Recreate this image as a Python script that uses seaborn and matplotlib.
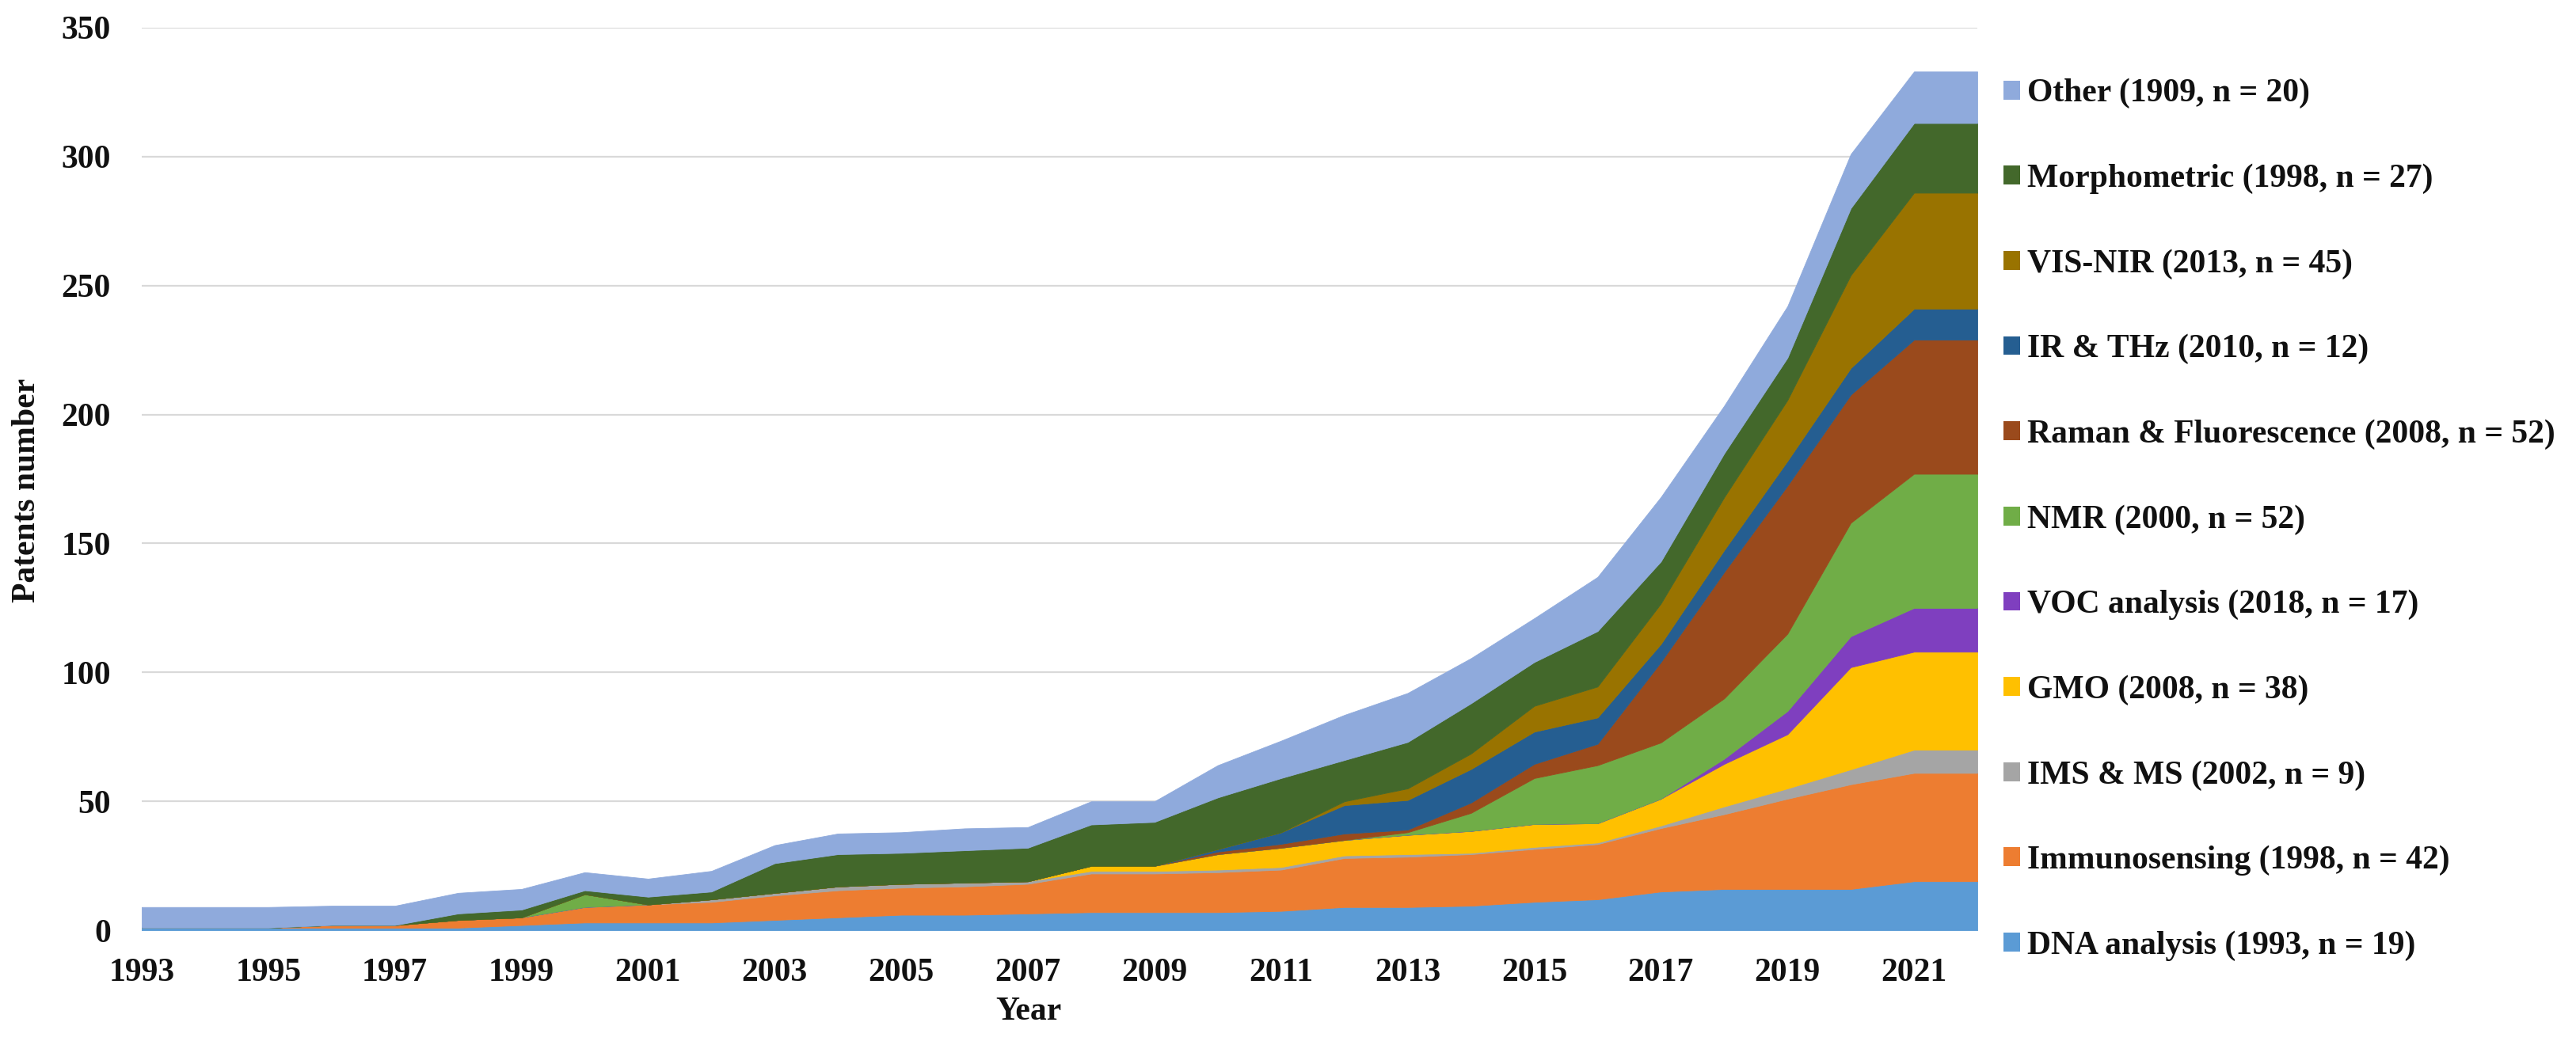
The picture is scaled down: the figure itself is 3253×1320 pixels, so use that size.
import matplotlib
matplotlib.use("Agg")
import matplotlib.pyplot as plt
import seaborn as sns
from matplotlib.patches import Patch

# ---------------- data ----------------
years = list(range(1993, 2023))

dna_analysis = [1, 1, 1, 1, 1, 1, 2, 3, 3, 3, 4, 5, 6, 6, 6.5, 7, 7, 7, 7.5, 9,
                9, 9.5, 11, 12, 15, 16, 16, 16, 19, 19]
immunosensing = [0, 0, 0, 1, 1, 3, 3, 6, 7, 8, 9.5, 10.5, 10.5, 11, 11.5, 15, 15, 15.5, 16, 19,
                 19.5, 20, 20.5, 21.4, 24.6, 29, 35, 40.6, 42, 42]
ims_ms = [0, 0, 0, 0, 0, 0, 0, 0, 0, 1, 1, 1.5, 1.5, 1.5, 1, 1, 1, 1, 1, 1,
          1, 0.5, 0.8, 0.6, 1, 3, 4, 5.8, 9, 9]
gmo = [0, 0, 0, 0, 0, 0, 0, 0, 0, 0, 0, 0, 0, 0, 0, 2, 2, 6, 7.5, 6,
       7.5, 8.5, 8.9, 7.5, 10.4, 16.5, 21, 39.6, 38, 38]
voc_analysis = [0, 0, 0, 0, 0, 0, 0, 0, 0, 0, 0, 0, 0, 0, 0, 0, 0, 0, 0, 0,
                0, 0, 0, 0, 0, 2, 9, 12, 17, 17]
nmr = [0, 0, 0, 0, 0, 0, 0, 5, 0, 0, 0, 0, 0, 0, 0, 0, 0, 0, 0, 0,
       1, 7, 17.8, 22.5, 21.8, 23.4, 30, 44, 52, 52]
raman_fluo = [0, 0, 0, 0, 0, 0, 0, 0, 0, 0, 0, 0, 0, 0, 0, 0, 0, 1, 1.5, 2.5,
              1, 4, 5.5, 8.3, 31.2, 49, 57.4, 49.7, 52, 52]
ir_thz = [0, 0, 0, 0, 0, 0, 0, 0, 0, 0, 0, 0, 0, 0, 0, 0, 0, 1, 4.5, 11,
          11.5, 13, 12.5, 10.2, 7, 8.5, 9.6, 10.3, 12, 12]
vis_nir = [0, 0, 0, 0, 0, 0, 0, 0, 0, 0, 0, 0, 0, 0, 0, 0, 0, 0, 0, 1.5,
           4.5, 6, 10, 12, 15.7, 20.5, 23.6, 36, 45, 45]
morphometric = [0, 0, 0, 0, 0, 2.5, 3, 1.5, 3, 3, 11.5, 12.5, 12, 12.5, 13, 16, 17, 20, 21, 16,
                18, 19.5, 17, 21.5, 16.3, 17, 16.4, 26, 27, 27]
other = [8, 8, 8, 7.5, 7.5, 8, 8, 7, 7, 8, 7, 8, 8, 8.5, 8, 9, 8, 12.5, 14.5, 17.5,
         19, 17.5, 17, 21, 25, 18.5, 20, 21, 20, 20]

series_labels = [
    "DNA analysis (1993, n = 19)",
    "Immunosensing (1998, n = 42)",
    "IMS & MS (2002, n = 9)",
    "GMO (2008, n = 38)",
    "VOC analysis (2018, n = 17)",
    "NMR (2000, n = 52)",
    "Raman & Fluorescence (2008, n = 52)",
    "IR & THz (2010, n = 12)",
    "VIS-NIR (2013, n = 45)",
    "Morphometric (1998, n = 27)",
    "Other (1909, n = 20)",
]
series_colors = ["#5B9BD5", "#ED7D31", "#A5A5A5", "#FFC000", "#7F3FBF", "#70AD47",
                 "#9A4A1C", "#255E91", "#997300", "#43682B", "#8FAADC"]
x_ticks = list(range(1993, 2022, 2))
y_ticks = list(range(0, 351, 50))

# ---------------- style ----------------
sns.set_theme(style="whitegrid")
plt.rcParams['font.family'] = ['Liberation Serif', 'DejaVu Serif']
plt.rcParams['font.weight'] = 'bold'

fig = plt.figure(figsize=(32.53, 13.2), dpi=100)
ax = fig.add_axes([0.055, 0.1098, 0.7126, 0.8637])

polys = ax.stackplot(years, dna_analysis, immunosensing, ims_ms, gmo, voc_analysis, nmr,
                     raman_fluo, ir_thz, vis_nir, morphometric, other,
                     colors=series_colors, labels=series_labels, linewidth=0.6)
for p, c in zip(polys, series_colors):
    p.set_edgecolor(c)

ax.set_xlim(1993, 2022)
ax.set_ylim(0, 350)
ax.set_xticks(x_ticks)
ax.set_yticks(y_ticks)
ax.grid(axis='y', color='#D9D9D9', linewidth=1.6)
ax.grid(axis='x', visible=False)
ax.set_axisbelow(True)
sns.despine(ax=ax, left=True, bottom=True)
ax.set_facecolor('white')

ax.tick_params(axis='both', length=0, labelsize=30, labelcolor='#111111')
ax.tick_params(axis='y', pad=28)
ax.tick_params(axis='x', pad=25)
for lbl in ax.get_xticklabels() + ax.get_yticklabels():
    lbl.set_fontweight('bold')

ax.set_xlabel('Year', fontsize=30, fontweight='bold', color='#111111')
ax.xaxis.set_label_coords(0.483, -0.074)
ax.set_ylabel('Patents number', fontsize=30, fontweight='bold', color='#111111')
ax.yaxis.set_label_coords(-0.0545, 0.487)

handles = [Patch(facecolor=c, edgecolor='none') for c in series_colors][::-1]
leg = fig.legend(handles, series_labels[::-1], loc='upper left',
                 bbox_to_anchor=(0.7777, 0.925), frameon=False,
                 prop={'family': ['Liberation Serif'], 'weight': 'bold', 'size': 30},
                 handlelength=0.5, handleheight=0.5, handletextpad=0.22,
                 labelspacing=1.66, borderpad=0, borderaxespad=0)
for t in leg.get_texts():
    t.set_color('#111111')

fig.savefig('out.png', dpi=100, facecolor='white')
